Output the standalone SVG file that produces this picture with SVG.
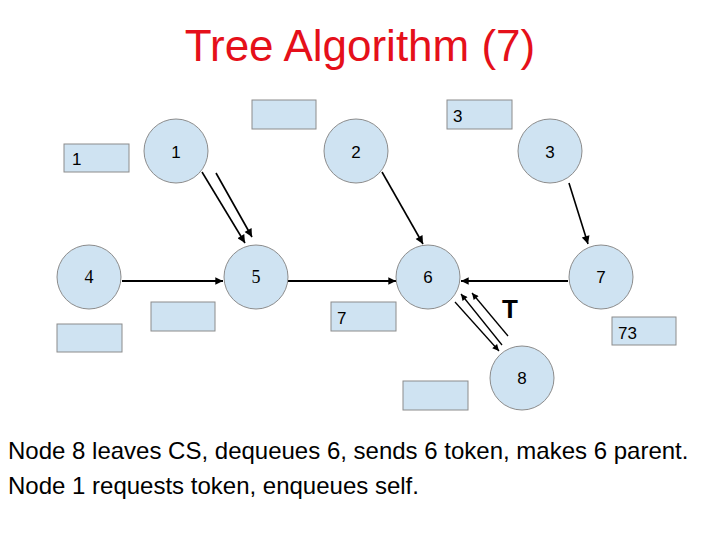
<svg xmlns="http://www.w3.org/2000/svg" width="720" height="540" viewBox="0 0 720 540">
<style>
.node{fill:#cfe3f2;stroke:#8c8c8c;stroke-width:1}
.box{fill:#cfe3f2;stroke:#8c8c8c;stroke-width:1}
.lbl{font-family:"Liberation Sans",Arial,sans-serif;font-size:17px;fill:#000}
.ser{font-family:"Liberation Serif","Times New Roman",serif;font-size:18px;fill:#000}
.edge{stroke:#000;stroke-width:1.6;fill:none;marker-end:url(#ah)}
.thin{stroke:#000;stroke-width:1.3;fill:none;marker-end:url(#ah)}
.h{stroke:#000;stroke-width:2.2;fill:none;marker-end:url(#ahs)}
.title{font-family:"Liberation Sans",Arial,sans-serif;font-size:44px;fill:#e5101a}
.body{font-family:"Liberation Sans",Arial,sans-serif;font-size:24px;fill:#000}
</style>
<defs>
<marker id="ah" viewBox="0 0 10 10" refX="10" refY="5" markerWidth="6.5" markerHeight="5" orient="auto" markerUnits="strokeWidth">
<path d="M0,0 L10,5 L0,10 z" fill="#000"/>
</marker>
<marker id="ahs" viewBox="0 0 10 10" refX="10" refY="5" markerWidth="4" markerHeight="3.5" orient="auto" markerUnits="strokeWidth">
<path d="M0,0 L10,5 L0,10 z" fill="#000"/>
</marker>
</defs>
<rect width="720" height="540" fill="#fff"/>
<text class="title" x="360" y="61" text-anchor="middle">Tree Algorithm (7)</text>

<g id="connectors">
<line class="edge" x1="202" y1="172" x2="245" y2="243"/>
<line class="edge" x1="216" y1="173" x2="252" y2="237"/>
<line class="edge" x1="382" y1="172" x2="423" y2="244"/>
<line class="edge" x1="569" y1="183" x2="588" y2="244"/>
<line class="h" x1="122" y1="281" x2="223" y2="281"/>
<line class="h" x1="288" y1="281" x2="396" y2="281"/>
<line class="h" x1="568" y1="281" x2="461" y2="281"/>
<line class="thin" x1="455" y1="302" x2="499" y2="351"/>
<line class="thin" x1="502" y1="345" x2="461" y2="294"/>
<line class="thin" x1="508" y1="336" x2="472" y2="293"/>
</g>

<g id="n1"><circle class="node" cx="176" cy="151" r="32"/><text class="lbl" x="176" y="157.5" text-anchor="middle">1</text></g>
<g id="n2"><circle class="node" cx="356" cy="151" r="32"/><text class="lbl" x="356" y="157.5" text-anchor="middle">2</text></g>
<g id="n3"><circle class="node" cx="550" cy="151" r="32"/><text class="lbl" x="550" y="157.5" text-anchor="middle">3</text></g>
<g id="n4"><circle class="node" cx="89" cy="277" r="32"/><text class="ser" x="89" y="283" text-anchor="middle">4</text></g>
<g id="n5"><circle class="node" cx="256" cy="277" r="32"/><text class="ser" x="256" y="283" text-anchor="middle">5</text></g>
<g id="n6"><circle class="node" cx="428" cy="277" r="32"/><text class="lbl" x="428" y="283" text-anchor="middle">6</text></g>
<g id="n7"><circle class="node" cx="601" cy="277" r="32"/><text class="lbl" x="601" y="283" text-anchor="middle">7</text></g>
<g id="n8"><circle class="node" cx="522" cy="378" r="32"/><text class="lbl" x="522" y="384" text-anchor="middle">8</text></g>

<g id="q-top"><rect class="box" x="252" y="100" width="64" height="29"/></g>
<g id="q3"><rect class="box" x="447" y="100" width="65" height="29"/><text class="lbl" x="453" y="122">3</text></g>
<g id="q1"><rect class="box" x="64" y="144" width="65" height="28"/><text class="lbl" x="72" y="165">1</text></g>
<g id="q4"><rect class="box" x="57" y="324" width="65" height="28"/></g>
<g id="q5"><rect class="box" x="151" y="302" width="64" height="29"/></g>
<g id="q6"><rect class="box" x="331" y="302" width="65" height="29"/><text class="lbl" x="337" y="324">7</text></g>
<g id="q7"><rect class="box" x="612" y="317" width="64" height="28"/><text class="lbl" x="618" y="339">73</text></g>
<g id="q8"><rect class="box" x="403" y="381" width="65" height="29"/></g>

<text x="510" y="318" text-anchor="middle" style="font-family:'Liberation Sans',Arial,sans-serif;font-size:26px;font-weight:bold">T</text>

<text class="body" x="8" y="459">Node 8 leaves CS, dequeues 6, sends 6 token, makes 6 parent.</text>
<text class="body" x="8" y="494">Node 1 requests token, enqueues self.</text>
</svg>
